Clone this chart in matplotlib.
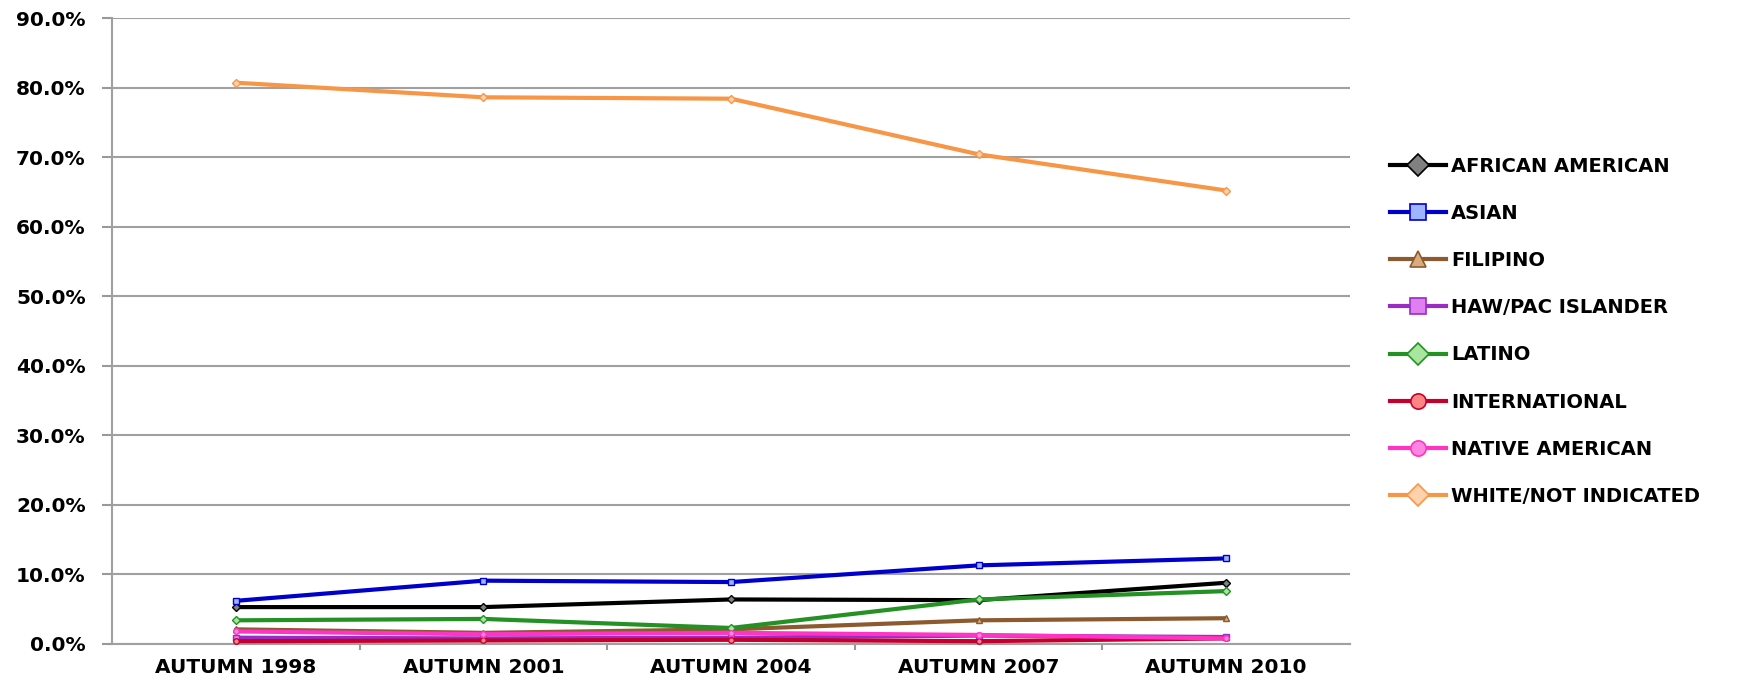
import matplotlib.pyplot as plt
from matplotlib.lines import Line2D
from matplotlib.ticker import FuncFormatter, FixedLocator

years = ["AUTUMN 1998", "AUTUMN 2001", "AUTUMN 2004", "AUTUMN 2007", "AUTUMN 2010"]

african_american = [5.3, 5.3, 6.4, 6.3, 8.8]
asian = [6.2, 9.1, 8.9, 11.3, 12.3]
filipino = [2.1, 1.6, 2.1, 3.4, 3.7]
haw_pac = [0.9, 0.8, 0.9, 1.2, 1.0]
latino = [3.4, 3.6, 2.3, 6.4, 7.6]
international = [0.4, 0.5, 0.6, 0.4, 0.8]
native_american = [1.8, 1.4, 1.6, 1.3, 0.8]
white = [80.7, 78.6, 78.4, 70.4, 65.2]

names = ["AFRICAN AMERICAN", "ASIAN", "FILIPINO", "HAW/PAC ISLANDER", "LATINO",
         "INTERNATIONAL", "NATIVE AMERICAN", "WHITE/NOT INDICATED"]
series = [african_american, asian, filipino, haw_pac, latino, international,
          native_american, white]
colors = ["#000000", "#0000CC", "#8C5A2E", "#9A2BC4", "#239123",
          "#C4002E", "#FF33C4", "#F79646"]
fills = ["#808080", "#9FB4FF", "#D9AC80", "#E07FF0", "#A8E6A0",
         "#FF8585", "#FF85E0", "#FFD2AD"]
markers = ["D", "s", "^", "s", "D", "o", "o", "D"]

plt.rcParams['font.family'] = 'DejaVu Sans'
plt.rcParams['font.weight'] = 'bold'

fig = plt.figure(figsize=(17.45, 6.8), dpi=100)
ax = fig.add_axes([0.0642, 0.053, 0.7094, 0.9205])

x = list(range(len(years)))
for vals, c, f, m in zip(series, colors, fills, markers):
    ax.plot(x, vals, color=c, lw=3, marker=m, ms=4, mfc=f, mec=c, mew=1,
            solid_capstyle='round', zorder=3)

ax.set_xlim(-0.5, 4.5)
ax.set_ylim(0, 90)
ax.set_yticks(range(0, 91, 10))
ax.yaxis.set_major_formatter(FuncFormatter(lambda v, p: f"{v:.1f}%"))
ax.set_xticks(x)
ax.set_xticklabels(years)
ax.xaxis.set_minor_locator(FixedLocator([0.5, 1.5, 2.5, 3.5]))
ax.tick_params(axis='x', which='major', length=0, pad=10, labelsize=14.5)
ax.tick_params(axis='x', which='minor', length=4, width=1.5, color='#999999')
ax.tick_params(axis='y', length=7, width=1.5, color='#999999', pad=12, labelsize=14.5)
for lab in ax.get_xticklabels() + ax.get_yticklabels():
    lab.set_fontweight('bold')

ax.grid(axis='y', color='#A0A0A0', lw=1.5, zorder=0)
ax.set_axisbelow(True)
for s in ['top', 'right']:
    ax.spines[s].set_visible(False)
for s in ['left', 'bottom']:
    ax.spines[s].set_color('#A0A0A0')
    ax.spines[s].set_linewidth(1.5)

handles = [Line2D([], [], color=c, lw=3, marker=m, ms=11, mfc=f, mec=c, mew=1.2)
           for c, f, m in zip(colors, fills, markers)]
leg = fig.legend(handles, names, loc='upper left', bbox_to_anchor=(0.792, 0.781),
                 frameon=False, prop={'weight': 'bold', 'size': 14},
                 handlelength=2.9, handletextpad=0.25, labelspacing=1.45,
                 borderaxespad=0)

fig.savefig("out.png", dpi=100)
